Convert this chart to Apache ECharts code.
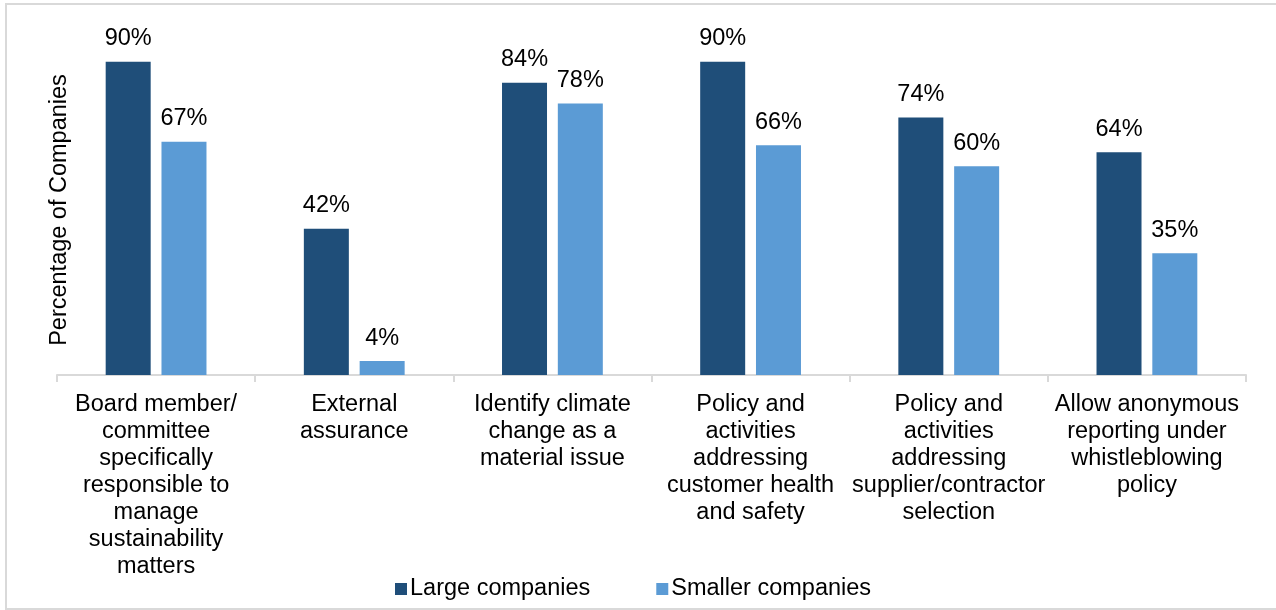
<!DOCTYPE html>
<html>
<head>
<meta charset="utf-8">
<script src="https://cdn.jsdelivr.net/npm/echarts@6/dist/echarts.min.js"></script>
<style>
  html, body { margin: 0; padding: 0; background: #fff; }
  #chart { width: 1276px; height: 610px; }
</style>
</head>
<body>
<div id="chart"></div>
<script>
// Sustainability disclosure practices by company size (% of companies)
const categories = [
  'Board member/\ncommittee\nspecifically\nresponsible to\nmanage\nsustainability\nmatters',
  'External\nassurance',
  'Identify climate\nchange as a\nmaterial issue',
  'Policy and\nactivities\naddressing\ncustomer health\nand safety',
  'Policy and\nactivities\naddressing\nsupplier/contractor\nselection',
  'Allow anonymous\nreporting under\nwhistleblowing\npolicy'
];
const largeCompanies = [90, 42, 84, 90, 74, 64];
const smallerCompanies = [67, 4, 78, 66, 60, 35];
const seriesNames = ['Large companies', 'Smaller companies'];

const FONT = '"Liberation Sans", Arial, sans-serif';
const FS = 23.5;

const chart = echarts.init(document.getElementById('chart'), null, { renderer: 'canvas' });

const labelStyle = {
  show: true,
  position: 'top',
  distance: 11,
  formatter: p => p.value + '%',
  color: '#000',
  fontFamily: FONT,
  fontSize: FS
};

chart.setOption({
  animation: false,
  backgroundColor: '#fff',
  textStyle: { fontFamily: FONT },
  grid: { left: 57, right: 30, top: 27, bottom: 235, containLabel: false },
  legend: {
    data: seriesNames,
    bottom: 9,
    left: 395,
    padding: [0, 0, 0, 0],
    icon: 'rect',
    itemWidth: 12,
    itemHeight: 12,
    itemGap: 66,
    textStyle: { fontFamily: FONT, fontSize: FS, color: '#000', padding: [0, 0, 0, -2] }
  },
  graphic: [
    {
      type: 'rect',
      shape: { x: 6, y: 4, width: 1280, height: 605 },
      style: { fill: 'none', stroke: '#d9d9d9', lineWidth: 2 },
      silent: true
    },
    {
      type: 'text',
      x: 60,
      y: 210,
      rotation: Math.PI / 2,
      style: {
        text: 'Percentage of Companies',
        fontFamily: FONT,
        fontSize: FS,
        fill: '#000',
        align: 'center',
        verticalAlign: 'middle'
      }
    }
  ],
  xAxis: {
    type: 'category',
    data: categories,
    axisLine: { show: true, lineStyle: { color: '#d9d9d9', width: 2 } },
    axisTick: { show: true, alignWithLabel: false, length: 7, lineStyle: { color: '#d9d9d9', width: 2 } },
    axisLabel: {
      interval: 0,
      margin: 16,
      color: '#000',
      fontFamily: FONT,
      fontSize: FS,
      lineHeight: 27,
      align: 'center'
    }
  },
  yAxis: {
    type: 'value',
    min: 0,
    max: 100,
    show: true,
    axisLine: { show: false },
    axisTick: { show: false },
    axisLabel: { show: false },
    splitLine: { show: false }
  },
  series: [
    {
      name: seriesNames[0],
      type: 'bar',
      data: largeCompanies,
      barWidth: 45,
      barGap: '24%',
      itemStyle: { color: '#1F4E79' },
      label: labelStyle
    },
    {
      name: seriesNames[1],
      type: 'bar',
      data: smallerCompanies,
      barWidth: 45,
      barGap: '24%',
      itemStyle: { color: '#5B9BD5' },
      label: labelStyle
    }
  ]
});
</script>
</body>
</html>
